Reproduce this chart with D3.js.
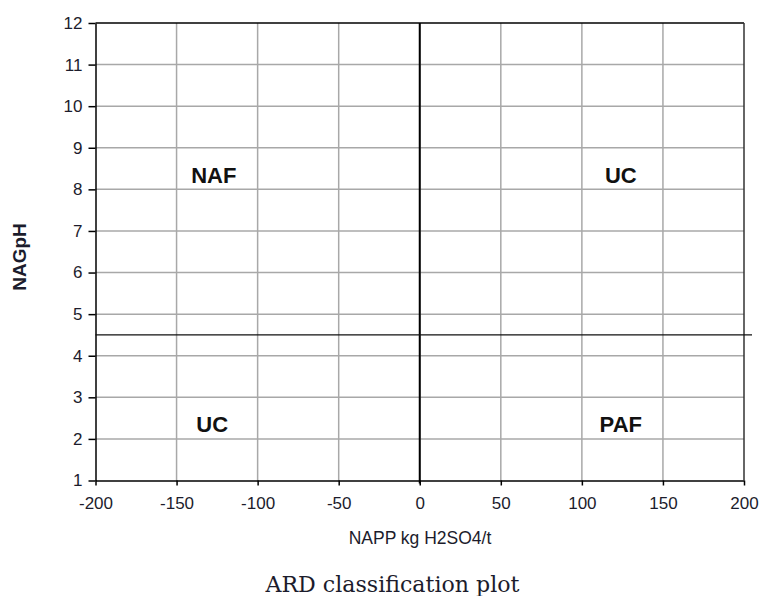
<!DOCTYPE html>
<html>
<head>
<meta charset="utf-8">
<script src="https://cdn.jsdelivr.net/npm/d3@7"></script>
<style>
  body { margin: 0; background: #fff; }
  svg text { font-family: "Liberation Sans", Arial, sans-serif; }
</style>
</head>
<body>
<div id="grafico"></div>
<script>
// valores do gráfico
var xDominio = [-200, 200];
var yDominio = [1, 12];
var xTicks = [-200, -150, -100, -50, 0, 50, 100, 150, 200];
var yTicks = [1, 2, 3, 4, 5, 6, 7, 8, 9, 10, 11, 12];
var limiteNAPP = 0;
var limiteNAGpH = 4.5;
var rotulosZonas = ["NAF", "UC", "UC", "PAF"];
var zonasX = [-127, 124, -128, 124];
var zonasY = [8.35, 8.35, 2.35, 2.35];

var largura = 763, altura = 596;
var margem = { top: 23, right: 19, bottom: 115.5, left: 95.5 };

var svg = d3.select("#grafico").append("svg")
    .attr("width", largura)
    .attr("height", altura);

var x = d3.scaleLinear().domain(xDominio).range([margem.left, largura - margem.right]);
var y = d3.scaleLinear().domain(yDominio).range([altura - margem.bottom, margem.top]);

// grade
svg.append("g").selectAll("line")
    .data(xTicks.slice(1, -1))
    .enter().append("line")
    .attr("x1", d => x(d)).attr("x2", d => x(d))
    .attr("y1", y(yDominio[0])).attr("y2", y(yDominio[1]))
    .attr("stroke", "#a8a8a8").attr("stroke-width", 1.5);

svg.append("g").selectAll("line")
    .data(yTicks.slice(1, -1))
    .enter().append("line")
    .attr("x1", x(xDominio[0])).attr("x2", x(xDominio[1]))
    .attr("y1", d => y(d)).attr("y2", d => y(d))
    .attr("stroke", "#a8a8a8").attr("stroke-width", 1.5);

// eixos (hífen simples no lugar do sinal de menos)
var eixoX = svg.append("g")
    .attr("transform", "translate(0," + y(yDominio[0]) + ")")
    .call(d3.axisBottom(x).tickValues(xTicks).tickFormat(d => String(d))
        .tickSize(5).tickPadding(11).tickSizeOuter(0));
var eixoY = svg.append("g")
    .attr("transform", "translate(" + x(xDominio[0]) + ",0)")
    .call(d3.axisLeft(y).tickValues(yTicks).tickFormat(d => String(d))
        .tickSize(7).tickPadding(6).tickSizeOuter(0));

[eixoX, eixoY].forEach(function (g) {
    g.select(".domain").attr("stroke", "#000").attr("stroke-width", 1.5);
    g.selectAll(".tick line").attr("stroke", "#000").attr("stroke-width", 1.5);
    g.selectAll(".tick text")
        .attr("font-size", "17px")
        .attr("fill", "#1c1c2c")
        .style("font-family", "'Liberation Sans', Arial, sans-serif");
});

// bordas superior e direita
svg.append("line")
    .attr("x1", x(xDominio[0])).attr("x2", x(xDominio[1]))
    .attr("y1", y(yDominio[1])).attr("y2", y(yDominio[1]))
    .attr("stroke", "#000").attr("stroke-width", 1.5);
svg.append("line")
    .attr("x1", x(xDominio[1])).attr("x2", x(xDominio[1]))
    .attr("y1", y(yDominio[0])).attr("y2", y(yDominio[1]))
    .attr("stroke", "#333").attr("stroke-width", 1.5);

// linhas de classificação
svg.append("line")
    .attr("x1", x(limiteNAPP)).attr("x2", x(limiteNAPP))
    .attr("y1", y(yDominio[0]) + 3).attr("y2", y(yDominio[1]))
    .attr("stroke", "#000").attr("stroke-width", 2);
svg.append("line")
    .attr("x1", x(xDominio[0])).attr("x2", x(xDominio[1]) + 8)
    .attr("y1", y(limiteNAGpH)).attr("y2", y(limiteNAGpH))
    .attr("stroke", "#111").attr("stroke-width", 1.3);

// rótulos das zonas
svg.append("g").selectAll("text")
    .data(rotulosZonas)
    .enter().append("text")
    .attr("x", (d, i) => x(zonasX[i]))
    .attr("y", (d, i) => y(zonasY[i]))
    .attr("dy", ".35em")
    .attr("text-anchor", "middle")
    .attr("font-size", "22px")
    .attr("font-weight", "bold")
    .attr("fill", "#111")
    .text(d => d);

// títulos dos eixos
svg.append("text")
    .attr("x", 420).attr("y", 544)
    .attr("text-anchor", "middle")
    .attr("font-size", "17.5px")
    .attr("fill", "#1c1c2c")
    .text("NAPP kg H2SO4/t");

svg.append("text")
    .attr("transform", "translate(26," + 257 + ") rotate(-90)")
    .attr("text-anchor", "middle")
    .attr("font-size", "19px")
    .attr("font-weight", "bold")
    .attr("fill", "#1c1c2c")
    .text("NAGpH");

svg.append("text")
    .attr("x", 392.5).attr("y", 592)
    .attr("text-anchor", "middle")
    .attr("font-size", "22px")
    .attr("fill", "#1c1c2c")
    .attr("textLength", 254)
    .attr("lengthAdjust", "spacingAndGlyphs")
    .style("font-family", "'DejaVu Serif', 'Liberation Serif', serif")
    .text("ARD classification plot");
</script>
</body>
</html>
